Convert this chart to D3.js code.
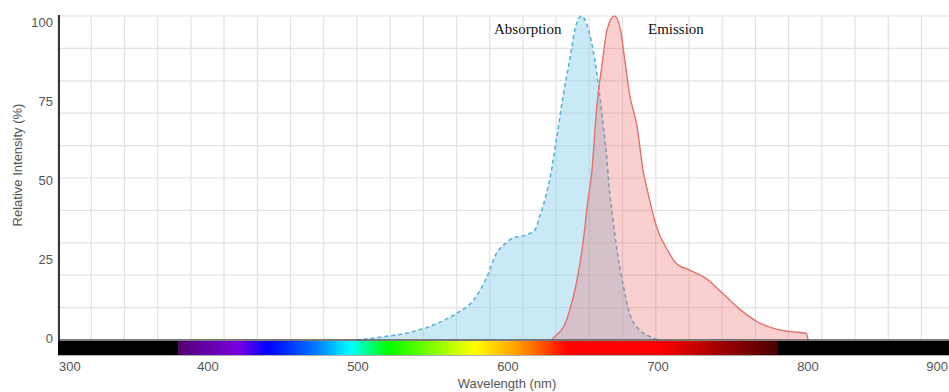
<!DOCTYPE html>
<html>
<head>
<meta charset="utf-8">
<script src="https://cdn.jsdelivr.net/npm/d3@7/dist/d3.min.js"></script>
<style>
  html, body { margin: 0; padding: 0; background: #fff; }
  svg { display: block; }
</style>
</head>
<body>
<svg id="chart" width="949" height="392"></svg>
<script>
// Absorption spectrum: wavelength (nm) and relative intensity (%)
const absWavelength = [499, 517, 537, 555, 566, 577, 586, 592, 597, 603, 612, 618, 621, 625, 628, 632, 637, 641, 645, 649, 653, 658, 661, 663.5, 666, 667, 670, 673, 677, 681, 688, 694, 700];
const absIntensity  = [0, 1, 2.6, 5.6, 8.3, 12.3, 19.5, 26.5, 29.3, 31.4, 32.4, 34, 38, 44, 50, 61, 76, 86, 96.5, 100, 96.7, 86, 76, 66, 55.6, 49.4, 37, 26.8, 16.5, 8.3, 3, 1.2, 0];

// Emission spectrum
const emWavelength = [629, 632, 637, 641, 646, 650, 653, 656, 659, 663, 666, 671, 675, 678, 681, 686, 690, 693, 695, 699, 706, 712, 721, 732, 743, 755, 766, 777, 788, 799, 800];
const emIntensity  = [0, 1.5, 4, 9, 18.5, 30, 42, 52.5, 71, 86, 95.7, 100, 95.7, 86, 76, 66, 52.5, 46, 42, 35, 28, 23.7, 21.6, 19, 14.4, 9.3, 5.7, 3.6, 2.6, 2, 0];

// Axis ticks
const xTicks = [300, 400, 500, 600, 700, 800, 900];
const yTicks = [0, 25, 50, 75, 100];

// Visible-spectrum colour band under the x axis
const bandNm    = [300, 379.9, 380, 420, 440, 470, 495, 520, 578, 610, 640, 700, 779.9, 780, 900];
const bandColor = ["#000", "#000", "#520070", "#7a00e0", "#0000ff", "#0070ff", "#00ffff", "#00ff00", "#ffff00", "#ff9000", "#ff0000", "#ff0000", "#480000", "#000", "#000"];

const svg = d3.select("#chart");
const x = d3.scaleLinear().domain([300, 900]).range([58, 958]);
const y = d3.scaleLinear().domain([0, 100]).range([340, 16]);
// tick labels sit on a slightly tighter scale than the grid
const yLab = d3.scaleLinear().domain([0, 100]).range([338, 22]);

// grid
const grid = svg.append("g");
const gridStep = 600 / 27.1;
d3.range(0, 28).forEach(i => {
  const gx = x(300 + i * gridStep);
  grid.append("line").attr("x1", gx).attr("x2", gx).attr("y1", y(100)).attr("y2", y(0))
    .attr("stroke", "#e2e2e2").attr("stroke-width", 1.2);
});
d3.range(0, 101, 10).forEach(v => {
  grid.append("line").attr("x1", x(300)).attr("x2", 949).attr("y1", y(v)).attr("y2", y(v))
    .attr("stroke", "#e2e2e2").attr("stroke-width", 1.2);
});

// spectra
const absData = absWavelength.map((w, i) => [w, absIntensity[i]]);
const emData = emWavelength.map((w, i) => [w, emIntensity[i]]);
const area = d3.area().curve(d3.curveMonotoneX).x(d => x(d[0])).y0(y(0)).y1(d => y(d[1]));
const line = d3.line().curve(d3.curveMonotoneX).x(d => x(d[0])).y(d => y(d[1]));

svg.append("path").datum(absData).attr("d", area)
  .attr("fill", "rgb(150,212,238)").attr("fill-opacity", 0.5);
svg.append("path").datum(absData).attr("d", line)
  .attr("fill", "none").attr("stroke", "#5ab2d6").attr("stroke-width", 1.6)
  .attr("stroke-dasharray", "4,3");

svg.append("path").datum(emData).attr("d", area)
  .attr("fill", "rgb(235,110,105)").attr("fill-opacity", 0.32);
svg.append("path").datum(emData).attr("d", line)
  .attr("fill", "none").attr("stroke", "#e5716c").attr("stroke-width", 1.4);

// colour band
const defs = svg.append("defs");
const grad = defs.append("linearGradient").attr("id", "band")
  .attr("gradientUnits", "userSpaceOnUse")
  .attr("x1", x(300)).attr("x2", x(900)).attr("y1", 0).attr("y2", 0);
bandNm.forEach((nm, i) => {
  grad.append("stop").attr("offset", (nm - 300) / 600).attr("stop-color", bandColor[i]);
});
svg.append("rect").attr("x", x(300)).attr("y", 341).attr("width", x(900) - x(300)).attr("height", 14)
  .attr("fill", "url(#band)");
svg.append("line").attr("x1", x(300)).attr("x2", 949).attr("y1", 355.5).attr("y2", 355.5)
  .attr("stroke", "#b0b0b0").attr("stroke-width", 1);

// axes lines
svg.append("line").attr("x1", x(300)).attr("x2", 949).attr("y1", y(0)).attr("y2", y(0))
  .attr("stroke", "#555").attr("stroke-width", 1.6);
svg.append("line").attr("x1", 59).attr("x2", 59).attr("y1", 15).attr("y2", 341)
  .attr("stroke", "#333").attr("stroke-width", 2);

// tick labels
const tickFont = "'Liberation Sans', Arial, sans-serif";
svg.append("g").selectAll("text").data(yTicks).join("text")
  .attr("x", 53).attr("y", d => yLab(d)).attr("dy", "0.35em")
  .attr("text-anchor", "end").attr("font-family", tickFont).attr("font-size", 13)
  .attr("fill", "#555").text(d => d);

svg.append("g").selectAll("text").data(xTicks).join("text")
  .attr("x", (d, i) => i === 0 ? x(d) + 1 : (i === xTicks.length - 1 ? 948 : x(d)))
  .attr("y", 371)
  .attr("text-anchor", (d, i) => i === 0 ? "start" : (i === xTicks.length - 1 ? "end" : "middle"))
  .attr("font-family", tickFont).attr("font-size", 13)
  .attr("fill", "#555").text(d => d);

// axis titles
svg.append("text").attr("x", 507).attr("y", 388).attr("text-anchor", "middle")
  .attr("font-family", tickFont).attr("font-size", 13).attr("fill", "#555")
  .text("Wavelength (nm)");
svg.append("text").attr("transform", "translate(22,165) rotate(-90)").attr("text-anchor", "middle")
  .attr("font-family", tickFont).attr("font-size", 13).attr("fill", "#555")
  .text("Relative Intensity (%)");

// series labels
const serif = "'Liberation Serif', 'Times New Roman', serif";
svg.append("text").attr("x", 494).attr("y", 34).attr("font-family", serif).attr("font-size", 15)
  .attr("fill", "#111").text("Absorption");
svg.append("text").attr("x", 648).attr("y", 34).attr("font-family", serif).attr("font-size", 15)
  .attr("fill", "#111").text("Emission");
</script>
</body>
</html>
